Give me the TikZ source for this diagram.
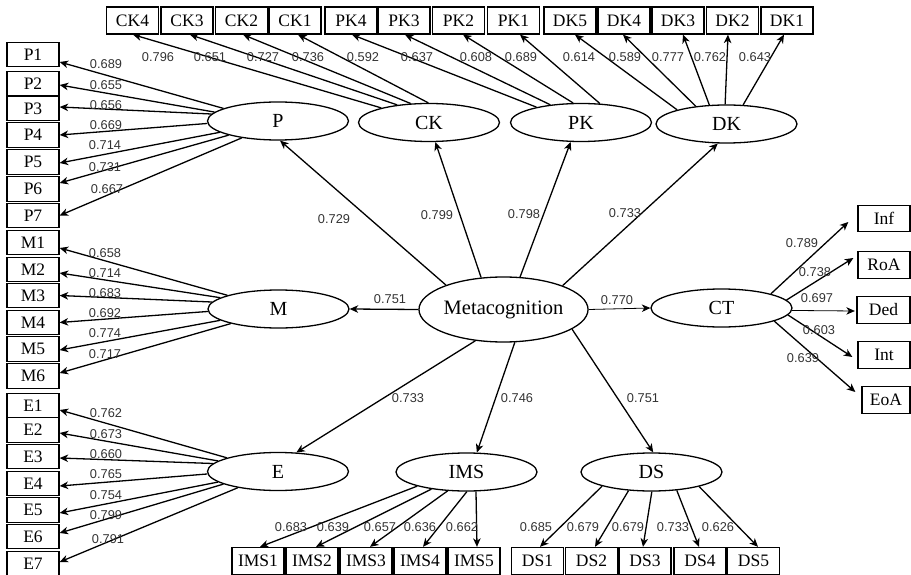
\documentclass[tikz,border=0pt]{standalone}
\usepackage{fontspec}
\setmainfont{Liberation Serif}
\newfontfamily\numfont{Liberation Sans}
\usetikzlibrary{arrows.meta,shapes.geometric}
\definecolor{lblgray}{RGB}{50,50,50}
\begin{document}
\begin{tikzpicture}[x=1pt,y=-1pt,
  box/.style={draw,line width=1.3pt,minimum width=52pt,minimum height=24.5pt,inner sep=0pt,font=\fontsize{17.5}{17.5}\selectfont},
  tbox/.style={box,minimum height=27pt},
  lat/.style={ellipse,draw,line width=1.3pt,minimum width=141pt,minimum height=38pt,inner sep=0pt,font=\fontsize{20}{20}\selectfont},
  ld/.style={-{Stealth[length=8.5pt,width=7.5pt,inset=2.5pt]},line width=1.3pt},
  thin ld/.style={ld,line width=0.8pt},
  lbl/.style={font=\numfont\fontsize{12.8}{12.8}\selectfont,text=lblgray,inner sep=0pt}
]
\useasboundingbox (0,0) rectangle (911,575);

% latent variables
\node[lat] (P) at (278,121) {P};
\node[lat] (CK) at (429,122.5) {CK};
\node[lat] (PK) at (581,122.5) {PK};
\node[lat] (DK) at (726.5,124) {DK};
\node[lat] (M) at (278.5,309) {M};
\node[lat,minimum width=167pt,minimum height=65pt,font=\fontsize{20.5}{20.5}\selectfont] (Meta) at (503.5,309.5) {Metacognition};
\node[lat] (CT) at (721.5,308) {CT};
\node[lat] (E) at (278,471.5) {E};
\node[lat] (IMS) at (466.5,472) {IMS};
\node[lat] (DS) at (651.5,472) {DS};

% top indicators
\foreach \n/\x in {CK4/132.5,CK3/187,CK2/241.5,CK1/295,PK4/351,PK3/404,PK2/458.5,PK1/513.5,DK5/570,DK4/624,DK3/678,DK2/732.5,DK1/787}
  \node[tbox] (\n) at (\x,20.5) {\n};
% left indicators
\foreach \n/\y in {P1/54.5,P2/83.5,P3/108.5,P4/135,P5/162,P6/189,P7/215.5,M1/242.5,M2/269.5,M3/295.5,M4/322.5,M5/349,M6/376,E1/405.5,E2/430,E3/456.5,E4/483.5,E5/510,E6/536.5,E7/563.5}
  \node[box] (\n) at (33,\y) {\n};
% right indicators
\foreach \n/\x/\y/\w in {Inf/884/218.5/52,RoA/884/265/52,Ded/883.5/310/53,Int/884/355/52,EoA/886/400/48}
  \node[box,minimum height=26.5pt,minimum width=\w pt] (\n) at (\x,\y) {\n};
% bottom indicators
\foreach \n/\x in {IMS1/258,IMS2/312,IMS3/366,IMS4/420,IMS5/474,DS1/537.5,DS2/591.5,DS3/645,DS4/700,DS5/753.5}
  \node[tbox] (\n) at (\x,561) {\n};

% structural paths
\draw[ld] (Meta.157) -- (P.276);
\draw[ld] (Meta.125) -- (CK.288);
\draw[ld] (Meta.63) -- (PK.242);
\draw[ld] (Meta.22) -- (DK.246);
\draw[ld] (Meta.180) -- (M.0);
\draw[thin ld] (Meta.0) -- (CT.180);
\draw[ld] (Meta.228) -- (E.46);
\draw[ld] (Meta.289.5) -- (IMS.62);
\draw[ld] (Meta.344) -- (DS.85.5);

% measurement paths
\foreach \b/\a/\s in {CK4/163.6/0.5,CK3/151.4/3,CK2/134.3/1.5,CK1/92.8/3}
  \draw[ld] (CK.\a) -- ([xshift=\s pt]\b.south);
\foreach \b/\a/\s in {PK4/161.4/1,PK3/150.2/1,PK2/112.3/4.5,PK1/45.7/6.5}
  \draw[ld] (PK.\a) -- ([xshift=\s pt]\b.south);
\foreach \b/\a/\s in {DK5/164.2/5,DK4/150.3/-1,DK3/132.6/5,DK2/94.3/-4.5,DK1/49/-3}
  \draw[ld] (DK.\a) -- ([xshift=\s pt]\b.south);
\foreach \b/\a/\s in {P1/167/-7.5,P2/172.1/-1.5,P3/174.3/1.5,P4/182.3/0,P5/191.1/-1,P6/196.4/6,P7/205.3/0}
  \draw[ld] (P.\a) -- ([yshift=\s pt]\b.east);
\foreach \b/\a/\s in {M1/165.8/-5.5,M2/169.7/-3.5,M3/174.4/0,M4/182.3/0,M5/191.9/-1,M6/197/3}
  \draw[ld] (M.\a) -- ([yshift=\s pt]\b.east);
\foreach \b/\a/\s in {E1/165.2/-4.5,E2/170.1/-3,E3/173.9/-1.5,E4/182/-2.5,E5/190.3/-3,E6/193.8/3.5,E7/202.4/1.5}
  \draw[ld] (E.\a) -- ([yshift=\s pt]\b.east);
\foreach \b/\a/\s in {IMS1/196.2/2,IMS2/206.3/4,IMS3/225.7/4,IMS4/271.4/3,IMS5/296.6/3}
  \draw[ld] (IMS.\a) -- ([xshift=\s pt]\b.north);
\foreach \b/\a/\s in {DS1/196.2/2.5,DS2/219.2/3.5,DS3/271.4/-2,DS4/324.2/-1,DS5/343.5/4.5}
  \draw[ld] (DS.\a) -- ([xshift=\s pt]\b.north);
\draw[ld] (CT.16.5) -- ([xshift=-9pt,yshift=-3.5pt]Inf.west);
\draw[ld] (CT.7.8) -- ([xshift=-4pt,yshift=7pt]RoA.west);
\draw[thin ld] (CT.-2.4) -- ([xshift=-1.5pt,yshift=-1pt]Ded.west);
\draw[ld] (CT.-6) -- ([xshift=-5pt,yshift=-2pt]Int.west);
\draw[ld] (CT.-14.2) -- ([xshift=-6pt,yshift=8pt]EoA.west);

% loadings
\foreach \t/\x/\y [count=\i] in {0.796/158/57,0.651/210/57,0.727/263/57,0.736/308/57,0.592/363/57,0.637/417/57,0.608/476/57,0.689/521/57,0.614/579/57,0.589/625/57,0.777/668/57,0.762/710/57,0.643/755/57}
  \node[lbl] (lt\i) at (\x,\y) {\t};
\foreach \t/\x/\y [count=\i] in {0.689/106/64,0.655/106/85,0.656/106/105,0.669/106/125,0.714/105/145,0.731/105/167,0.667/107/189,0.658/105/253,0.714/105/273,0.683/105/293,0.692/105/313,0.774/105/333,0.717/105/354,0.762/106/413,0.673/106/434,0.660/106/454,0.765/106/474,0.754/106/495,0.799/106/515,0.791/108/539}
  \node[lbl] (ll\i) at (\x,\y) {\t};
\foreach \t/\x/\y [count=\i] in {0.729/334/219,0.799/437/215,0.798/524/214,0.733/625/213,0.751/390/299,0.770/617/300,0.733/408/398,0.746/517/398,0.751/643/398}
  \node[lbl] (lm\i) at (\x,\y) {\t};
\foreach \t/\x/\y [count=\i] in {0.789/802/243,0.738/815/272,0.697/817/298,0.603/819/330,0.639/803/358}
  \node[lbl] (lr\i) at (\x,\y) {\t};
\foreach \t/\x/\y [count=\i] in {0.683/291/527,0.639/333/527,0.657/380/527,0.636/420/527,0.662/462/527,0.685/536/527,0.679/583/527,0.679/628/527,0.733/673/527,0.626/718/527}
  \node[lbl] (lb\i) at (\x,\y) {\t};
\end{tikzpicture}
\end{document}
